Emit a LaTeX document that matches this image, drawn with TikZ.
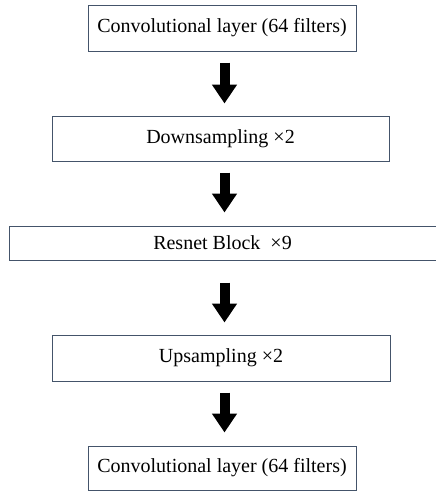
\documentclass[tikz,border=0pt]{standalone}
\usepackage{fontspec}
\setmainfont{Liberation Serif}
\usetikzlibrary{arrows.meta,calc}
\definecolor{boxline}{HTML}{44546A}
\begin{document}
\begin{tikzpicture}[x=1pt,y=-1pt,
  stagebox/.style={draw=boxline,line width=1pt,fill=white,inner sep=0pt,
    font=\fontsize{20}{24}\selectfont,text=black},
  bigarrow/.style={line width=10pt,-{Triangle[width=24pt,length=19pt]},black}]
\useasboundingbox[fill=white] (0,0) rectangle (436,491);
\node[stagebox,minimum width=268pt,minimum height=46pt] (b1) at (222,28) {Convolutional layer (64 filters)};
\node[stagebox,minimum width=337pt,minimum height=45pt] (b2) at (220.5,138.5) {Downsampling ×2};
\node[stagebox,minimum width=427pt,minimum height=34pt] (b3) at (222.5,243) {Resnet Block\ \ ×9};
\node[stagebox,minimum width=338pt,minimum height=46pt] (b4) at (221,358) {Upsampling ×2};
\node[stagebox,minimum width=268pt,minimum height=44pt] (b5) at (222,468) {Convolutional layer (64 filters)};
\coordinate (ax) at (224.5,0);
\draw[bigarrow,shorten <=11pt,shorten >=12pt] (b1.south -| ax) -- (b2.north -| ax);
\draw[bigarrow,shorten <=11pt,shorten >=13pt] (b2.south -| ax) -- (b3.north -| ax);
\draw[bigarrow,shorten <=22pt,shorten >=12pt] (b3.south -| ax) -- (b4.north -| ax);
\draw[bigarrow,shorten <=11pt,shorten >=13pt] (b4.south -| ax) -- (b5.north -| ax);
\end{tikzpicture}
\end{document}
